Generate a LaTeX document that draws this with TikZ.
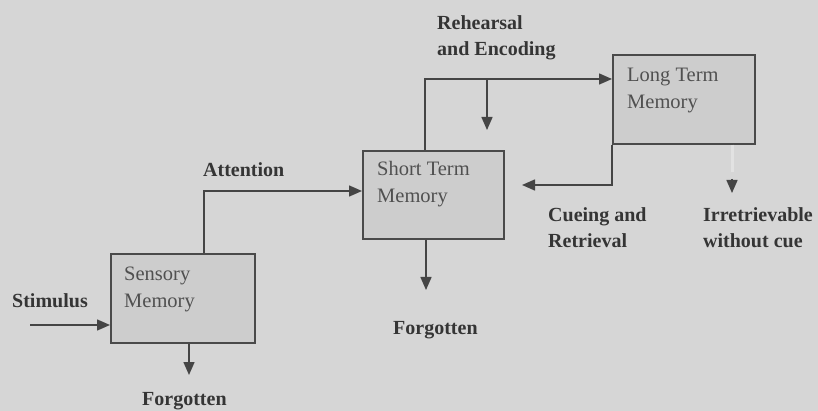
\documentclass[tikz,border=0pt]{standalone}
\usepackage{fontspec}
\setmainfont{Liberation Serif}
\usetikzlibrary{arrows.meta,calc}
\definecolor{bg}{HTML}{D6D6D6}
\definecolor{boxfill}{HTML}{CDCDCD}
\definecolor{boxline}{HTML}{4A4A4A}
\definecolor{lineclr}{HTML}{454545}
\definecolor{labelclr}{HTML}{353535}
\definecolor{boxtextclr}{HTML}{505050}
\definecolor{faint}{HTML}{E2E2E2}
\tikzset{
  membox/.style={draw=boxline, line width=1.6pt, fill=boxfill, anchor=north west, inner sep=0pt},
  boxtext/.style={anchor=north west, inner sep=0pt, align=left, text=boxtextclr,
    font=\fontsize{20.5}{27}\selectfont},
  lbl/.style={anchor=north west, inner sep=0pt, align=left, text=labelclr,
    font=\fontsize{20}{26.5}\selectfont\bfseries},
  conn/.style={draw=lineclr, line width=1.5pt},
  arr/.style={conn, -{Triangle[length=13pt,width=11pt]}},
}
\begin{document}
\begin{tikzpicture}[x=1pt,y=-1pt]
\fill[bg] (0,0) rectangle (818,411);
\useasboundingbox (0,0) rectangle (818,411);

% boxes
\node[membox, minimum width=144pt, minimum height=89pt] (sens) at (110,253) {};
\node[membox, minimum width=141pt, minimum height=88pt] (stm) at (362,150) {};
\node[membox, minimum width=142pt, minimum height=89pt] (ltm) at (612,54) {};

\node[boxtext] (senstxt) at (124,267) {Sensory\\Memory};
\node[boxtext] (stmtxt) at (377,161) {Short Term\\Memory};
\node[boxtext] (ltmtxt) at (627,68) {Long Term\\Memory};

% labels
\node[lbl] (stim) at (12,293) {Stimulus};
\node[lbl] (forg1) at (142,392) {Forgotten};
\node[lbl] (att) at (203,162) {Attention};
\node[lbl] (forg2) at (393,321) {Forgotten};
\node[lbl] (reh) at (437,15) {Rehearsal\\and Encoding};
\node[lbl] (cue) at (548,207) {Cueing and\\Retrieval};
\node[lbl] (irr) at (703,207) {Irretrievable\\without cue};

% coordinates
\coordinate (stimstart) at (30,325);
\coordinate (f1) at (189,375);
\coordinate (a) at (204,191);
\coordinate (f2) at (426,290);
\coordinate (r) at (425,79);
\coordinate (rb) at (487,79);
\coordinate (rbend) at (487,130);
\coordinate (c) at (522,185);
\coordinate (irrtip) at (732,193);
\coordinate (irrmid) at (732,172);
\coordinate (irrhead) at (732,179);

% connectors
\draw[arr] (stimstart) -- (stimstart -| sens.west);
\draw[arr] (f1 |- sens.south) -- (f1);
\draw[arr] (a |- sens.north) |- (a -| stm.west);
\draw[arr] (f2 |- stm.south) -- (f2);
\draw[arr] (r |- stm.north) |- (r -| ltm.west);
\draw[arr] (rb) -- (rbend);
\draw[arr] (ltm.south west) |- (c);
\draw[draw=faint, line width=3pt] (irrtip |- ltm.south) -- (irrmid);
\draw[arr] (irrhead) -- (irrtip);
\end{tikzpicture}
\end{document}
